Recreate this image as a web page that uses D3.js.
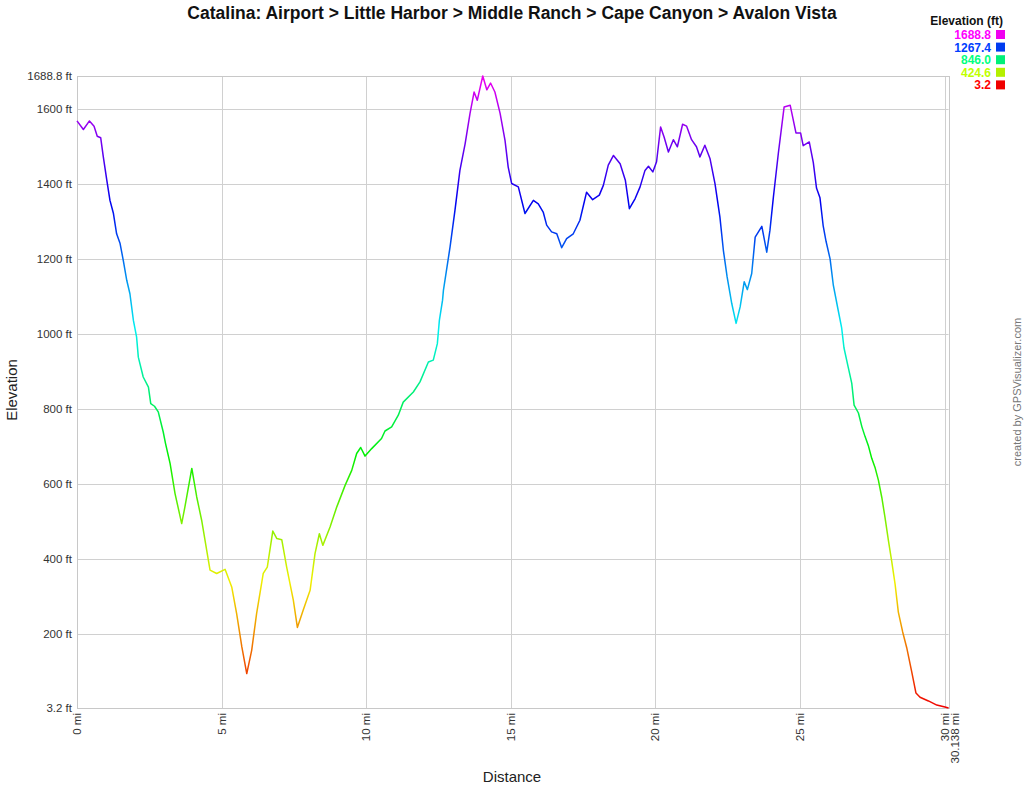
<!DOCTYPE html>
<meta charset="utf-8">
<head>
<title>Catalina elevation profile</title>
<style>
body { margin: 0; background: #fff; font-family: "Liberation Sans", Arial, sans-serif; }
svg text { font-family: "Liberation Sans", Arial, sans-serif; }
</style>
</head>
<body>
<script src="https://d3js.org/d3.v7.min.js"></script>
<script>

// track distance (mi) and elevation (ft)
var miles = [0.00,0.22,0.43,0.59,0.70,0.82,0.91,1.03,1.14,1.26,1.37,1.49,1.60,1.72,1.83,1.95,2.06,2.12,2.29,2.47,
  2.55,2.68,2.81,2.98,3.06,3.22,3.39,3.62,3.73,3.97,4.14,4.31,4.60,4.83,5.12,5.35,5.52,5.70,5.87,6.04,
  6.21,6.44,6.58,6.77,6.91,7.08,7.25,7.48,7.62,7.82,8.06,8.23,8.38,8.50,8.75,8.98,9.27,9.50,9.67,9.81,
  9.96,10.19,10.53,10.65,10.88,11.11,11.28,11.63,11.86,12.15,12.32,12.46,12.53,12.64,12.67,12.90,13.07,13.24,13.42,13.59,
  13.73,13.84,14.03,14.17,14.30,14.45,14.63,14.80,14.91,15.03,15.26,15.49,15.78,15.95,16.12,16.24,16.41,16.59,16.76,16.93,
  17.16,17.39,17.62,17.83,18.06,18.20,18.37,18.55,18.78,18.96,19.10,19.30,19.47,19.64,19.76,19.91,20.04,20.18,20.30,20.45,
  20.62,20.76,20.94,21.08,21.25,21.42,21.54,21.71,21.89,22.06,22.23,22.35,22.48,22.64,22.79,22.93,23.07,23.18,23.33,23.45,
  23.68,23.85,23.96,24.08,24.25,24.45,24.66,24.86,25.02,25.11,25.32,25.46,25.57,25.69,25.80,25.90,26.04,26.15,26.32,26.44,
  26.52,26.67,26.79,26.87,27.02,27.14,27.25,27.37,27.48,27.60,27.71,27.83,27.94,28.06,28.17,28.29,28.40,28.55,28.69,28.86,
  29.01,29.15,29.44,29.73,30.01,30.138];
var elevation = [1569,1546,1569,1555,1528,1524,1473,1411,1357,1322,1268,1242,1197,1144,1108,1037,993,939,886,859,
  815,808,793,740,709,655,575,495,539,642,566,504,371,362,373,326,255,166,95,157,
  255,362,379,475,455,452,379,291,218,264,317,415,468,437,486,539,597,637,682,698,
  675,695,722,742,753,784,819,846,873,926,931,975,1037,1091,1117,1233,1331,1437,1508,1589,
  1646,1624,1688.8,1652,1670,1646,1589,1517,1446,1402,1393,1322,1357,1348,1326,1291,1273,1268,1231,1255,
  1268,1304,1379,1359,1371,1397,1451,1477,1455,1411,1335,1362,1393,1437,1448,1433,1460,1553,1526,1486,
  1519,1500,1560,1555,1519,1500,1473,1504,1468,1402,1313,1224,1153,1082,1029,1073,1140,1119,1162,1259,
  1288,1219,1277,1366,1482,1606,1611,1537,1537,1503,1513,1458,1390,1364,1290,1248,1201,1132,1064,1017,
  964,911,869,811,790,753,727,701,669,643,611,564,511,448,395,332,259,206,164,101,
  43,32,22,11,6,3.2];

var yTicks = [200,400,600,800,1000,1200,1400,1600];
var xTicks = [0,5,10,15,20,25,30];
var legendValues = [1688.8,1267.4,846.0,424.6,3.2];
var minEle = 3.2, maxEle = 1688.8, totalMiles = 30.138;

var title = "Catalina: Airport > Little Harbor > Middle Ranch > Cape Canyon > Avalon Vista";

var data = miles.map(function(m, i){ return {mi: m, ft: elevation[i]}; });

var width = 1024, height = 785;
var svg = d3.select("body").append("svg")
    .attr("width", width)
    .attr("height", height);

var x = d3.scaleLinear().domain([0, totalMiles]).range([77, 948.6]);
var y = d3.scaleLinear().domain([minEle, maxEle]).range([708, 76]);

// elevation -> hue ramp red..yellow..green..cyan..blue..magenta
var hue = d3.scaleLinear().domain([minEle, maxEle]).range([0, 300]);
function eleColor(v, l){ return d3.hsl(hue(v), 1, l == null ? 0.47 : l).formatHex(); }

var tickSize = 11.5;

// gridlines
var grid = svg.append("g");
grid.selectAll(".hg")
    .data(yTicks.concat([maxEle]))
    .enter().append("line")
    .attr("x1", x(0)).attr("x2", x(totalMiles))
    .attr("y1", function(d){ return Math.round(y(d)) + 0.5; })
    .attr("y2", function(d){ return Math.round(y(d)) + 0.5; })
    .attr("stroke", "#d0d0d0");
grid.selectAll(".vg")
    .data(xTicks)
    .enter().append("line")
    .attr("y1", y(minEle)).attr("y2", y(maxEle))
    .attr("x1", function(d){ return Math.round(x(d)) + 0.5; })
    .attr("x2", function(d){ return Math.round(x(d)) + 0.5; })
    .attr("stroke", "#d0d0d0");

// frame
svg.append("rect")
    .attr("x", Math.round(x(0)) + 0.5)
    .attr("y", Math.round(y(maxEle)) + 0.5)
    .attr("width", Math.round(x(totalMiles)) - Math.round(x(0)))
    .attr("height", Math.round(y(minEle)) - Math.round(y(maxEle)))
    .attr("fill", "none")
    .attr("stroke", "#c8c8c8");

// gradient for the profile line
var grad = svg.append("defs").append("linearGradient")
    .attr("id", "eleGrad")
    .attr("gradientUnits", "userSpaceOnUse")
    .attr("x1", 0).attr("x2", 0)
    .attr("y1", y(minEle)).attr("y2", y(maxEle));
d3.range(0, 1.0001, 0.05).forEach(function(t){
  grad.append("stop")
      .attr("offset", t)
      .attr("stop-color", eleColor(minEle + t * (maxEle - minEle)));
});

var valueline = d3.line()
    .x(function(d){ return x(d.mi); })
    .y(function(d){ return y(d.ft); });

svg.append("path")
    .datum(data)
    .attr("d", valueline)
    .attr("fill", "none")
    .attr("stroke", "url(#eleGrad)")
    .attr("stroke-width", 1.5)
    .attr("stroke-linejoin", "round");

// y axis labels
svg.append("g").selectAll("text")
    .data(yTicks)
    .enter().append("text")
    .attr("x", 72)
    .attr("y", function(d){ return y(d); })
    .attr("dy", "0.35em")
    .attr("text-anchor", "end")
    .attr("font-size", tickSize)
    .attr("fill", "#333")
    .text(function(d){ return d + " ft"; });
svg.append("text")
    .attr("x", 72).attr("y", y(maxEle)).attr("dy", "0.35em")
    .attr("text-anchor", "end").attr("font-size", tickSize).attr("fill", "#333")
    .text(maxEle + " ft");
svg.append("text")
    .attr("x", 72).attr("y", y(minEle)).attr("dy", "0.35em")
    .attr("text-anchor", "end").attr("font-size", tickSize).attr("fill", "#333")
    .text(minEle + " ft");

// x axis labels (rotated)
svg.append("g").selectAll("text")
    .data(xTicks)
    .enter().append("text")
    .attr("transform", function(d){ return "translate(" + x(d) + ",713) rotate(-90)"; })
    .attr("dy", "0.35em")
    .attr("text-anchor", "end")
    .attr("font-size", tickSize)
    .attr("fill", "#333")
    .text(function(d){ return d + " mi"; });
svg.append("text")
    .attr("transform", "translate(" + (x(totalMiles) + 6) + ",713) rotate(-90)")
    .attr("dy", "0.35em")
    .attr("text-anchor", "end")
    .attr("font-size", tickSize)
    .attr("fill", "#333")
    .text(totalMiles + " mi");

// titles
svg.append("text")
    .attr("x", 512).attr("y", 19)
    .attr("text-anchor", "middle")
    .attr("font-size", 17.5).attr("font-weight", "bold")
    .attr("fill", "#111")
    .text(title);
svg.append("text")
    .attr("x", 512).attr("y", 782)
    .attr("text-anchor", "middle")
    .attr("font-size", 15).attr("fill", "#222")
    .text("Distance");
svg.append("text")
    .attr("transform", "translate(17,390) rotate(-90)")
    .attr("text-anchor", "middle")
    .attr("font-size", 15).attr("fill", "#222")
    .text("Elevation");
svg.append("text")
    .attr("transform", "translate(1021,392) rotate(-90)")
    .attr("text-anchor", "middle")
    .attr("font-size", 11).attr("fill", "#777")
    .text("created by GPSVisualizer.com");

// legend
svg.append("text")
    .attr("x", 1003).attr("y", 25)
    .attr("text-anchor", "end")
    .attr("font-size", 12).attr("font-weight", "bold")
    .attr("fill", "#111")
    .text("Elevation (ft)");
var leg = svg.append("g").selectAll("g")
    .data(legendValues)
    .enter().append("g")
    .attr("transform", function(d, i){ return "translate(0," + (34.5 + i * 12.6) + ")"; });
leg.append("text")
    .attr("x", 991)
    .attr("dy", "0.38em")
    .attr("text-anchor", "end")
    .attr("font-size", 12).attr("font-weight", "bold")
    .attr("fill", function(d){ return eleColor(d, 0.5); })
    .text(function(d){ return d.toFixed(1); });
leg.append("rect")
    .attr("x", 996).attr("y", -4.5)
    .attr("width", 9).attr("height", 9)
    .attr("fill", function(d){ return eleColor(d, 0.47); });

</script>
</body>
